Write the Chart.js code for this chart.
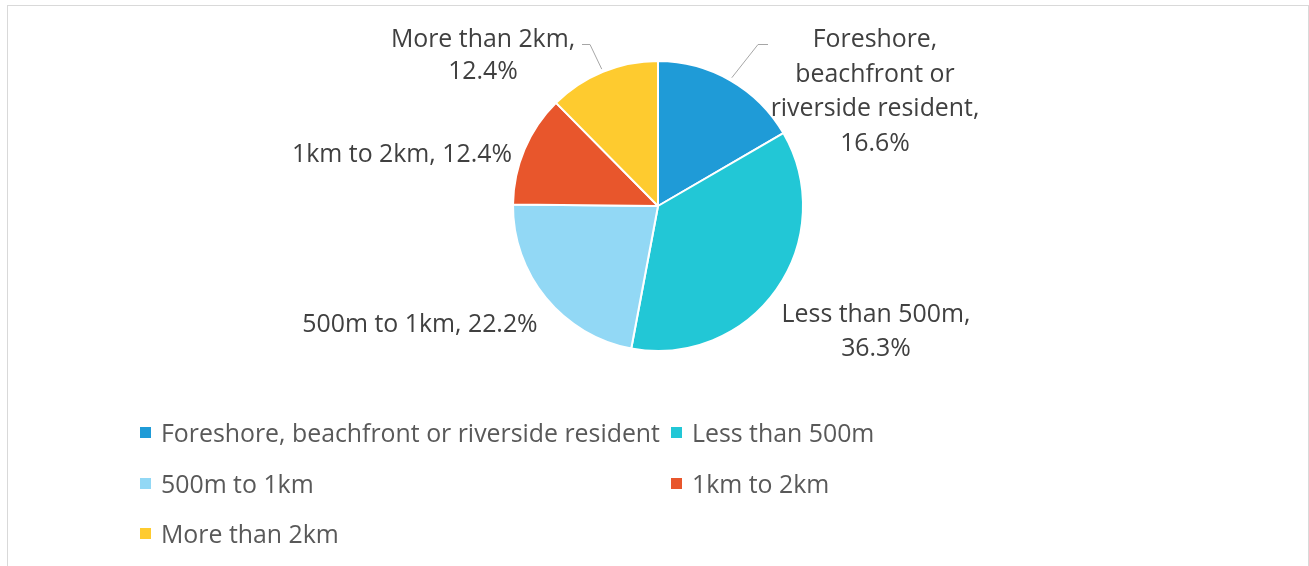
<!DOCTYPE html>
<html><head><meta charset="utf-8">
<script src="https://cdn.jsdelivr.net/npm/chart.js@4.4.0/dist/chart.umd.min.js"></script>
<style>
html,body{margin:0;padding:0;background:#fff;overflow:hidden}
#wrap{position:relative;width:1309px;height:566px}
#frame{position:absolute;left:7px;top:5px;width:1302px;height:620px;border:1px solid #d9d9d9;box-sizing:border-box}
canvas{position:absolute;left:0;top:0}
</style></head><body>
<div id="wrap"><div id="frame"></div><canvas id="c" width="1309" height="566"></canvas></div>
<script>
// ---- data ----
const categories = ["Foreshore, beachfront or riverside resident", "Less than 500m", "500m to 1km", "1km to 2km", "More than 2km"];
const values = [16.6, 36.3, 22.2, 12.4, 12.4];

// ---- styles / layout ----
const colors = ["#1F9BD7", "#22C7D6", "#92D8F5", "#E8562C", "#FECB2F"];
const FONT = '"Open Sans", "Noto Sans", sans-serif';
const labelLayout = [
  {dx: 217, dy: -159, lh: 34.5, words: [1, 2, 2, 1], leader: [[100, -162], [110, -162]]},
  {dx: 218, dy: 116, lh: 33.5, words: [3, 1]},
  {dx: -238, dy: 126},
  {dx: -256, dy: -44},
  {dx: -175, dy: -159, lh: 32, words: [3, 1], leader: [[-68, -162], [-76, -162]]}
];
const legendCols = [140, 671];
const legendRows = [433, 484, 534];

let fontSize = null;
function getFontSize(ctx) {
  if (fontSize) return fontSize;
  ctx.save();
  ctx.font = '100px ' + FONT;
  const w = ctx.measureText('1km to 2km, 12.4%').width;
  ctx.restore();
  fontSize = 100 * 220 / w;
  return fontSize;
}

const labelPlugin = {
  id: 'labels',
  afterDraw(chart) {
    const ctx = chart.ctx;
    const meta = chart.getDatasetMeta(0);
    const fs = getFontSize(ctx);
    ctx.save();
    ctx.font = fs.toFixed(2) + 'px ' + FONT;
    meta.data.forEach((arc, i) => {
      const L = labelLayout[i];
      const cx = arc.x, cy = arc.y;
      const text = categories[i] + ', ' + values[i].toFixed(1) + '%';
      const toks = text.split(' ');
      let lines = [];
      if (L.words) {
        let k = 0;
        L.words.forEach(n => { lines.push(toks.slice(k, k + n).join(' ')); k += n; });
      } else lines = [text];
      ctx.fillStyle = '#404040';
      ctx.textAlign = 'center';
      ctx.textBaseline = 'alphabetic';
      lines.forEach((ln, j) => ctx.fillText(ln, cx + L.dx, cy + L.dy + j * (L.lh || 34)));
      if (L.leader) {
        const mid = (arc.startAngle + arc.endAngle) / 2;
        const r = arc.outerRadius + 3;
        ctx.strokeStyle = '#A6A6A6';
        ctx.lineWidth = 1;
        ctx.beginPath();
        ctx.moveTo(cx + Math.cos(mid) * r, cy + Math.sin(mid) * r);
        L.leader.forEach(p => ctx.lineTo(cx + p[0], cy + p[1] + 0.5));
        ctx.stroke();
      }
    });
    // legend
    ctx.textAlign = 'left';
    categories.forEach((c, i) => {
      const x = legendCols[i % 2], y = legendRows[Math.floor(i / 2)];
      ctx.fillStyle = colors[i];
      ctx.fillRect(x, y - 6, 11, 11);
      ctx.fillStyle = '#595959';
      ctx.fillText(c, x + 21, y + 8.5);
    });
    ctx.restore();
  }
};

new Chart(document.getElementById('c'), {
  type: 'pie',
  data: {
    labels: categories,
    datasets: [{
      data: values,
      backgroundColor: colors,
      borderColor: '#ffffff',
      borderWidth: 2,
      hoverOffset: 0
    }]
  },
  options: {
    responsive: false,
    animation: false,
    devicePixelRatio: 1,
    radius: 145,
    layout: {padding: {left: 7, right: 0, top: 0, bottom: 154}},
    plugins: {legend: {display: false}, tooltip: {enabled: false}}
  },
  plugins: [labelPlugin]
});
</script>
</body></html>
